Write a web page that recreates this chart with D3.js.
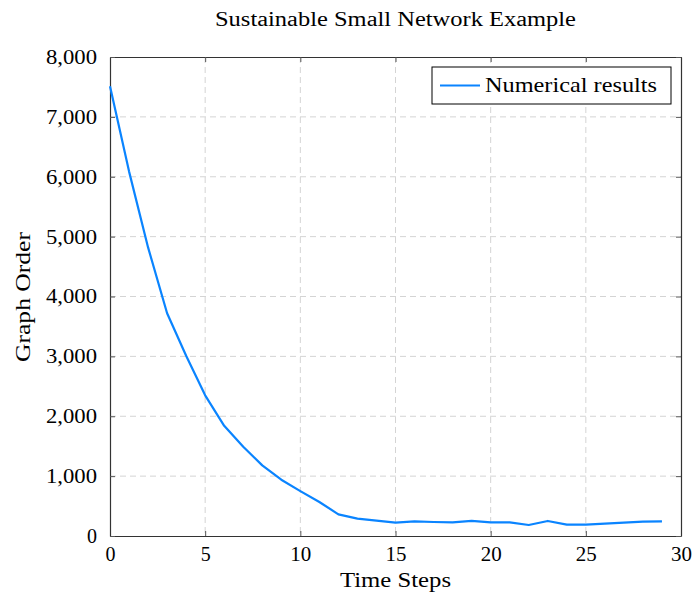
<!DOCTYPE html>
<html>
<head>
<meta charset="utf-8">
<script src="https://cdn.jsdelivr.net/npm/d3@7"></script>
<style>
  body { margin: 0; background: #fff; }
  text { font-family: "Liberation Serif", "DejaVu Serif", serif; fill: #000; }
</style>
</head>
<body>
<div id="chart"></div>
<script>
const F_WIDTH = 692;
const F_HEIGHT = 593;
const MARGINS = {left: 110, right: 11, top: 57, bottom: 57};

const VIS_WIDTH = F_WIDTH - MARGINS.left - MARGINS.right;
const VIS_HEIGHT = F_HEIGHT - MARGINS.top - MARGINS.bottom;

// data
const STEPS = d3.range(0, 30);
const ORDER = [7510, 6090, 4820, 3720, 3010, 2350, 1840, 1490, 1180, 940,
               750, 568, 362, 290, 257, 224, 245, 234, 229, 251,
               229, 229, 184, 251, 190, 190, 207, 224, 240, 245];
const X_TICKS = [0, 5, 10, 15, 20, 25, 30];
const Y_TICKS = [0, 1000, 2000, 3000, 4000, 5000, 6000, 7000, 8000];

const TITLE = "Sustainable Small Network Example";
const X_LABEL = "Time Steps";
const Y_LABEL = "Graph Order";
const SERIES_NAME = "Numerical results";
const LINE_COLOR = "#0a84ff";

const FRAME = d3.select("#chart")
  .append("svg")
    .attr("width", F_WIDTH)
    .attr("height", F_HEIGHT);

const X_SCALE = d3.scaleLinear().domain([0, 30]).range([0, VIS_WIDTH]);
const Y_SCALE = d3.scaleLinear().domain([0, 8000]).range([VIS_HEIGHT, 0]);

const PLOT = FRAME.append("g")
  .attr("transform", "translate(" + MARGINS.left + "," + MARGINS.top + ")");

// dashed grid
PLOT.append("g")
  .selectAll("line")
  .data(X_TICKS.slice(1, -1))
  .enter().append("line")
    .attr("x1", d => X_SCALE(d)).attr("x2", d => X_SCALE(d))
    .attr("y1", 0).attr("y2", VIS_HEIGHT)
    .attr("stroke", "#d4d4d4").attr("stroke-dasharray", "6,4");

PLOT.append("g")
  .selectAll("line")
  .data(Y_TICKS.slice(1, -1))
  .enter().append("line")
    .attr("x1", 0).attr("x2", VIS_WIDTH)
    .attr("y1", d => Y_SCALE(d)).attr("y2", d => Y_SCALE(d))
    .attr("stroke", "#d4d4d4").attr("stroke-dasharray", "6,4");

// axes with inward ticks
const fmt = d3.format(",");
const xBottom = PLOT.append("g")
  .attr("transform", "translate(0," + VIS_HEIGHT + ")")
  .call(d3.axisBottom(X_SCALE).tickValues(X_TICKS).tickSizeInner(-5).tickSizeOuter(0).tickPadding(11));
const xTop = PLOT.append("g")
  .call(d3.axisTop(X_SCALE).tickValues(X_TICKS).tickSizeInner(-5).tickSizeOuter(0).tickFormat(""));
const yLeft = PLOT.append("g")
  .call(d3.axisLeft(Y_SCALE).tickValues(Y_TICKS).tickSizeInner(-5).tickSizeOuter(0).tickPadding(13).tickFormat(fmt));
const yRight = PLOT.append("g")
  .attr("transform", "translate(" + VIS_WIDTH + ",0)")
  .call(d3.axisRight(Y_SCALE).tickValues(Y_TICKS).tickSizeInner(-5).tickSizeOuter(0).tickFormat(""));

[xBottom, xTop, yLeft, yRight].forEach(a => {
  a.select(".domain").attr("stroke", "#333").attr("stroke-width", 1.2);
  a.selectAll(".tick line").attr("stroke", "#555");
  a.selectAll("text").style("font-family", "Liberation Serif, serif").style("font-size", "20px").attr("fill", "#000");
});
// computer-modern figures run a little wider
yLeft.selectAll(".tick text")
  .filter(d => d >= 1000)
  .attr("textLength", 51).attr("lengthAdjust", "spacingAndGlyphs");
xBottom.selectAll(".tick text")
  .filter(d => d >= 10)
  .attr("textLength", 21).attr("lengthAdjust", "spacingAndGlyphs");

// the series
PLOT.append("path")
  .datum(STEPS.map((s, i) => ({x: s, y: ORDER[i]})))
  .attr("d", d3.line().x(d => X_SCALE(d.x)).y(d => Y_SCALE(d.y)))
  .attr("fill", "none")
  .attr("stroke", LINE_COLOR)
  .attr("stroke-width", 2.2)
  .attr("stroke-linejoin", "round");

// legend
const LEG = PLOT.append("g").attr("transform", "translate(" + (VIS_WIDTH - 249) + ",10)");
LEG.append("rect")
  .attr("width", 239).attr("height", 37)
  .attr("fill", "#fff").attr("stroke", "#000").attr("stroke-width", 1);
LEG.append("line")
  .attr("x1", 8).attr("x2", 48).attr("y1", 18.5).attr("y2", 18.5)
  .attr("stroke", LINE_COLOR).attr("stroke-width", 2.2);
LEG.append("text")
  .attr("x", 53).attr("y", 25)
  .attr("textLength", 172).attr("lengthAdjust", "spacingAndGlyphs")
  .style("font-size", "21px")
  .text(SERIES_NAME);

// title and axis labels
FRAME.append("text")
  .attr("x", 215).attr("y", 26)
  .attr("textLength", 361).attr("lengthAdjust", "spacingAndGlyphs")
  .style("font-size", "20px")
  .text(TITLE);

FRAME.append("text")
  .attr("x", 340).attr("y", 587)
  .attr("textLength", 111).attr("lengthAdjust", "spacingAndGlyphs")
  .style("font-size", "21px")
  .text(X_LABEL);

FRAME.append("text")
  .attr("transform", "translate(30,362) rotate(-90)")
  .attr("textLength", 130).attr("lengthAdjust", "spacingAndGlyphs")
  .style("font-size", "21px")
  .text(Y_LABEL);
</script>
</body>
</html>
